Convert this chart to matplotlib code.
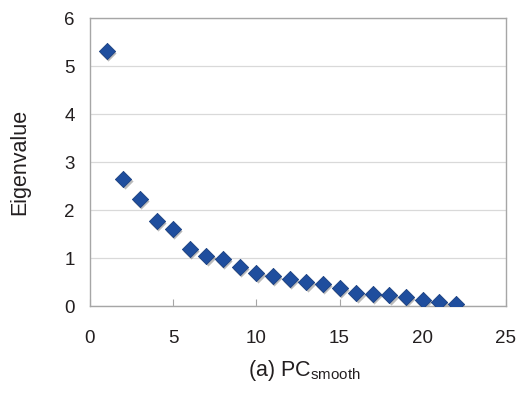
import matplotlib
matplotlib.use('Agg')
import matplotlib.pyplot as plt

plt.rcParams['font.family'] = ['Liberation Sans', 'DejaVu Sans']

components = list(range(1, 23))
eigenvalues = [5.31, 2.65, 2.23, 1.78, 1.60, 1.18, 1.05, 0.99, 0.81, 0.68, 0.62,
               0.56, 0.51, 0.46, 0.38, 0.28, 0.25, 0.23, 0.18, 0.13, 0.09, 0.04]

fig = plt.figure(figsize=(5.2, 3.94), dpi=100)
ax = fig.add_axes([0.173, 0.223, 0.8, 0.731])

# soft shadow under each marker, like the original
ax.scatter([c + 0.08 for c in components], [e - 0.04 for e in eigenvalues],
           marker='D', s=68, color='#555555', alpha=0.4, lw=0, zorder=2)
ax.scatter(components, eigenvalues, marker='D', s=68, color='#1f4e9e',
           edgecolor='#1a3f80', lw=0.6, zorder=3)

ax.set_xlim(0, 25)
ax.set_ylim(0, 6)
ax.set_xticks([0, 5, 10, 15, 20, 25])
ax.set_yticks([0, 1, 2, 3, 4, 5, 6])
ax.grid(axis='y', color='#d9d9d9', lw=0.9)
ax.set_axisbelow(True)
for s in ax.spines.values():
    s.set_color('#a6a6a6')
    s.set_linewidth(1.0)
ax.tick_params(axis='x', direction='in', length=5, color='#a6a6a6',
               labelsize=13.5, pad=17, labelcolor='#231f20')
ax.tick_params(axis='y', length=0, labelsize=13.5, pad=11, labelcolor='#231f20')

ax.set_ylabel('Eigenvalue', fontsize=15.5, labelpad=0, color='#231f20')
ax.yaxis.set_label_coords(-0.143, 0.5)
ax.set_xlabel(r'(a) PC$_{\mathregular{smooth}}$', fontsize=15.5, color='#231f20')
ax.xaxis.set_label_coords(0.515, -0.18)

fig.savefig('out.png')
